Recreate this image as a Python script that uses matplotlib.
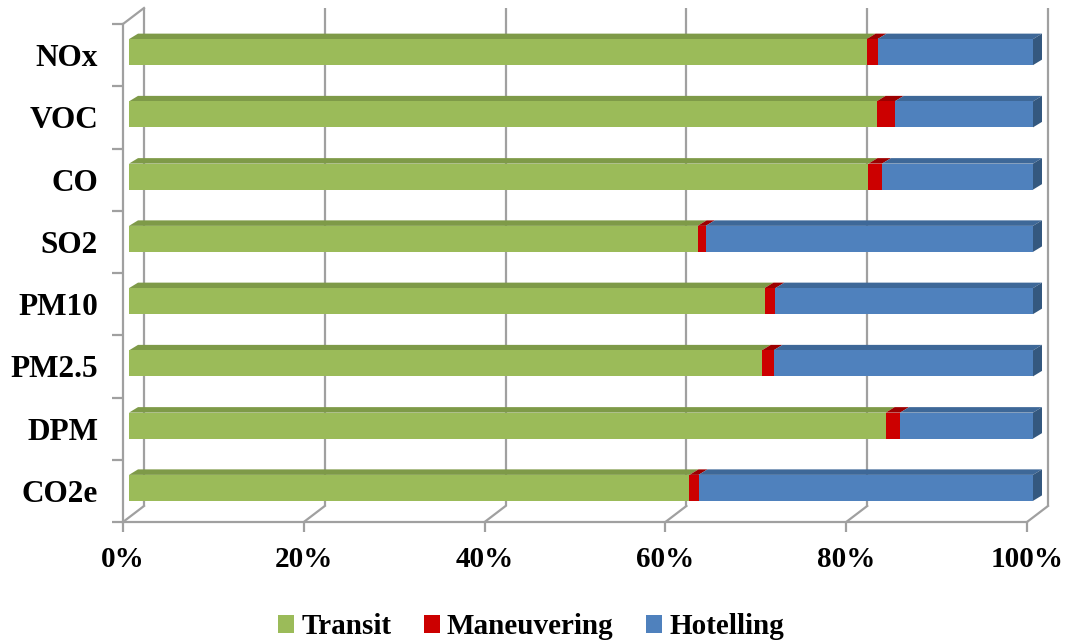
import matplotlib
matplotlib.use("Agg")
import matplotlib.pyplot as plt
from matplotlib.patches import Polygon, Patch

# ---------------- data ----------------
categories = ["CO2e", "DPM", "PM2.5", "PM10", "SO2", "CO", "VOC", "NOx"]
transit = [62.0, 83.7, 70.0, 70.3, 62.9, 81.8, 82.7, 81.6]
maneuvering = [1.0, 1.6, 1.3, 1.2, 0.9, 1.5, 2.0, 1.2]
hotelling = [37.0, 14.7, 28.7, 28.5, 36.2, 16.7, 15.3, 17.2]
series_names = ["Transit", "Maneuvering", "Hotelling"]
xticks = [0, 20, 40, 60, 80, 100]
xtick_labels = ["0%", "20%", "40%", "60%", "80%", "100%"]

# ---------------- style ----------------
front_cols = ["#9BBB59", "#CC0000", "#4F81BD"]
top_cols = ["#7E9A48", "#9C0000", "#3E6898"]
side_col = "#34587F"
grid_col = "#A0A0A0"
FONT = ["Liberation Serif", "DejaVu Serif"]
FS = 21

W, H = 1065, 642
fig = plt.figure(figsize=(W / 100, H / 100), dpi=100)
ax_l, ax_r, ax_t, ax_b = 123, 1027, 24, 522
ax = fig.add_axes([ax_l / W, (H - ax_b) / H, (ax_r - ax_l) / W, (ax_b - ax_t) / H])
ax.set_xlim(0, 100)
ax.set_ylim(-0.5, 7.5)

ux = 100 / (ax_r - ax_l)   # data units per pixel (x)
uy = 8 / (ax_b - ax_t)     # data units per pixel (y)

# back wall offset
bx, by = 21 * ux, 16 * uy
lw = 1.6
for xv in xticks:
    ax.plot([xv + bx, xv + bx], [-0.5 + by, 7.5 + by], color=grid_col, lw=lw,
            clip_on=False, zorder=1, solid_capstyle="butt")
    ax.plot([xv, xv + bx], [-0.5, -0.5 + by], color=grid_col, lw=lw,
            clip_on=False, zorder=1)
ax.plot([0, bx], [7.5, 7.5 + by], color=grid_col, lw=lw, clip_on=False, zorder=1)

# bars (3D look)
fx, fy = 6 * ux, 3 * uy          # front face offset
dx, dy = 9 * ux, 5.5 * uy        # bar depth
bh = 26 * uy
series = [transit, maneuvering, hotelling]
for i, cat in enumerate(categories):
    left = 0.0
    yc = i + fy
    y0, y1 = yc - bh / 2, yc + bh / 2
    for s, vals in enumerate(series):
        v = vals[i]
        x0 = left + fx
        x1 = left + v + fx
        ax.barh(yc, v, left=x0, height=bh, color=front_cols[s],
                linewidth=0, zorder=3, clip_on=False)
        ax.add_patch(Polygon([[x0, y1], [x1, y1], [x1 + dx, y1 + dy], [x0 + dx, y1 + dy]],
                             closed=True, facecolor=top_cols[s], edgecolor="none",
                             zorder=2.9, clip_on=False))
        left += v
    xe = left + fx
    ax.add_patch(Polygon([[xe, y0], [xe, y1], [xe + dx, y1 + dy], [xe + dx, y0 + dy]],
                         closed=True, facecolor=side_col, edgecolor="none",
                         zorder=2.9, clip_on=False))

# axes / ticks
for sp in ["top", "right"]:
    ax.spines[sp].set_visible(False)
for sp in ["left", "bottom"]:
    ax.spines[sp].set_color(grid_col)
    ax.spines[sp].set_linewidth(lw)
ax.set_xticks(xticks)
ax.set_xticklabels(xtick_labels, fontfamily=FONT, fontweight="bold", fontsize=FS)
ax.tick_params(axis="x", length=7, width=lw, color=grid_col, pad=10)
ax.set_yticks(range(len(categories)))
ax.set_yticklabels(categories, fontfamily=FONT, fontweight="bold", fontsize=22.5)
ax.set_yticks([k - 0.5 for k in range(len(categories) + 1)], minor=True)
ax.tick_params(axis="y", which="major", length=0, pad=18)
ax.tick_params(axis="y", which="minor", length=8, width=lw, color=grid_col)
ax.set_facecolor("none")

handles = [Patch(facecolor=c, edgecolor="none") for c in front_cols]
fig.legend(handles, series_names, loc="center", bbox_to_anchor=(531 / W, 1 - 627 / H),
           ncol=3, frameon=False, handlelength=0.55, handleheight=0.55,
           handletextpad=0.25, columnspacing=1.1,
           prop={"family": FONT, "weight": "bold", "size": FS})

fig.savefig("out.png", dpi=100)
